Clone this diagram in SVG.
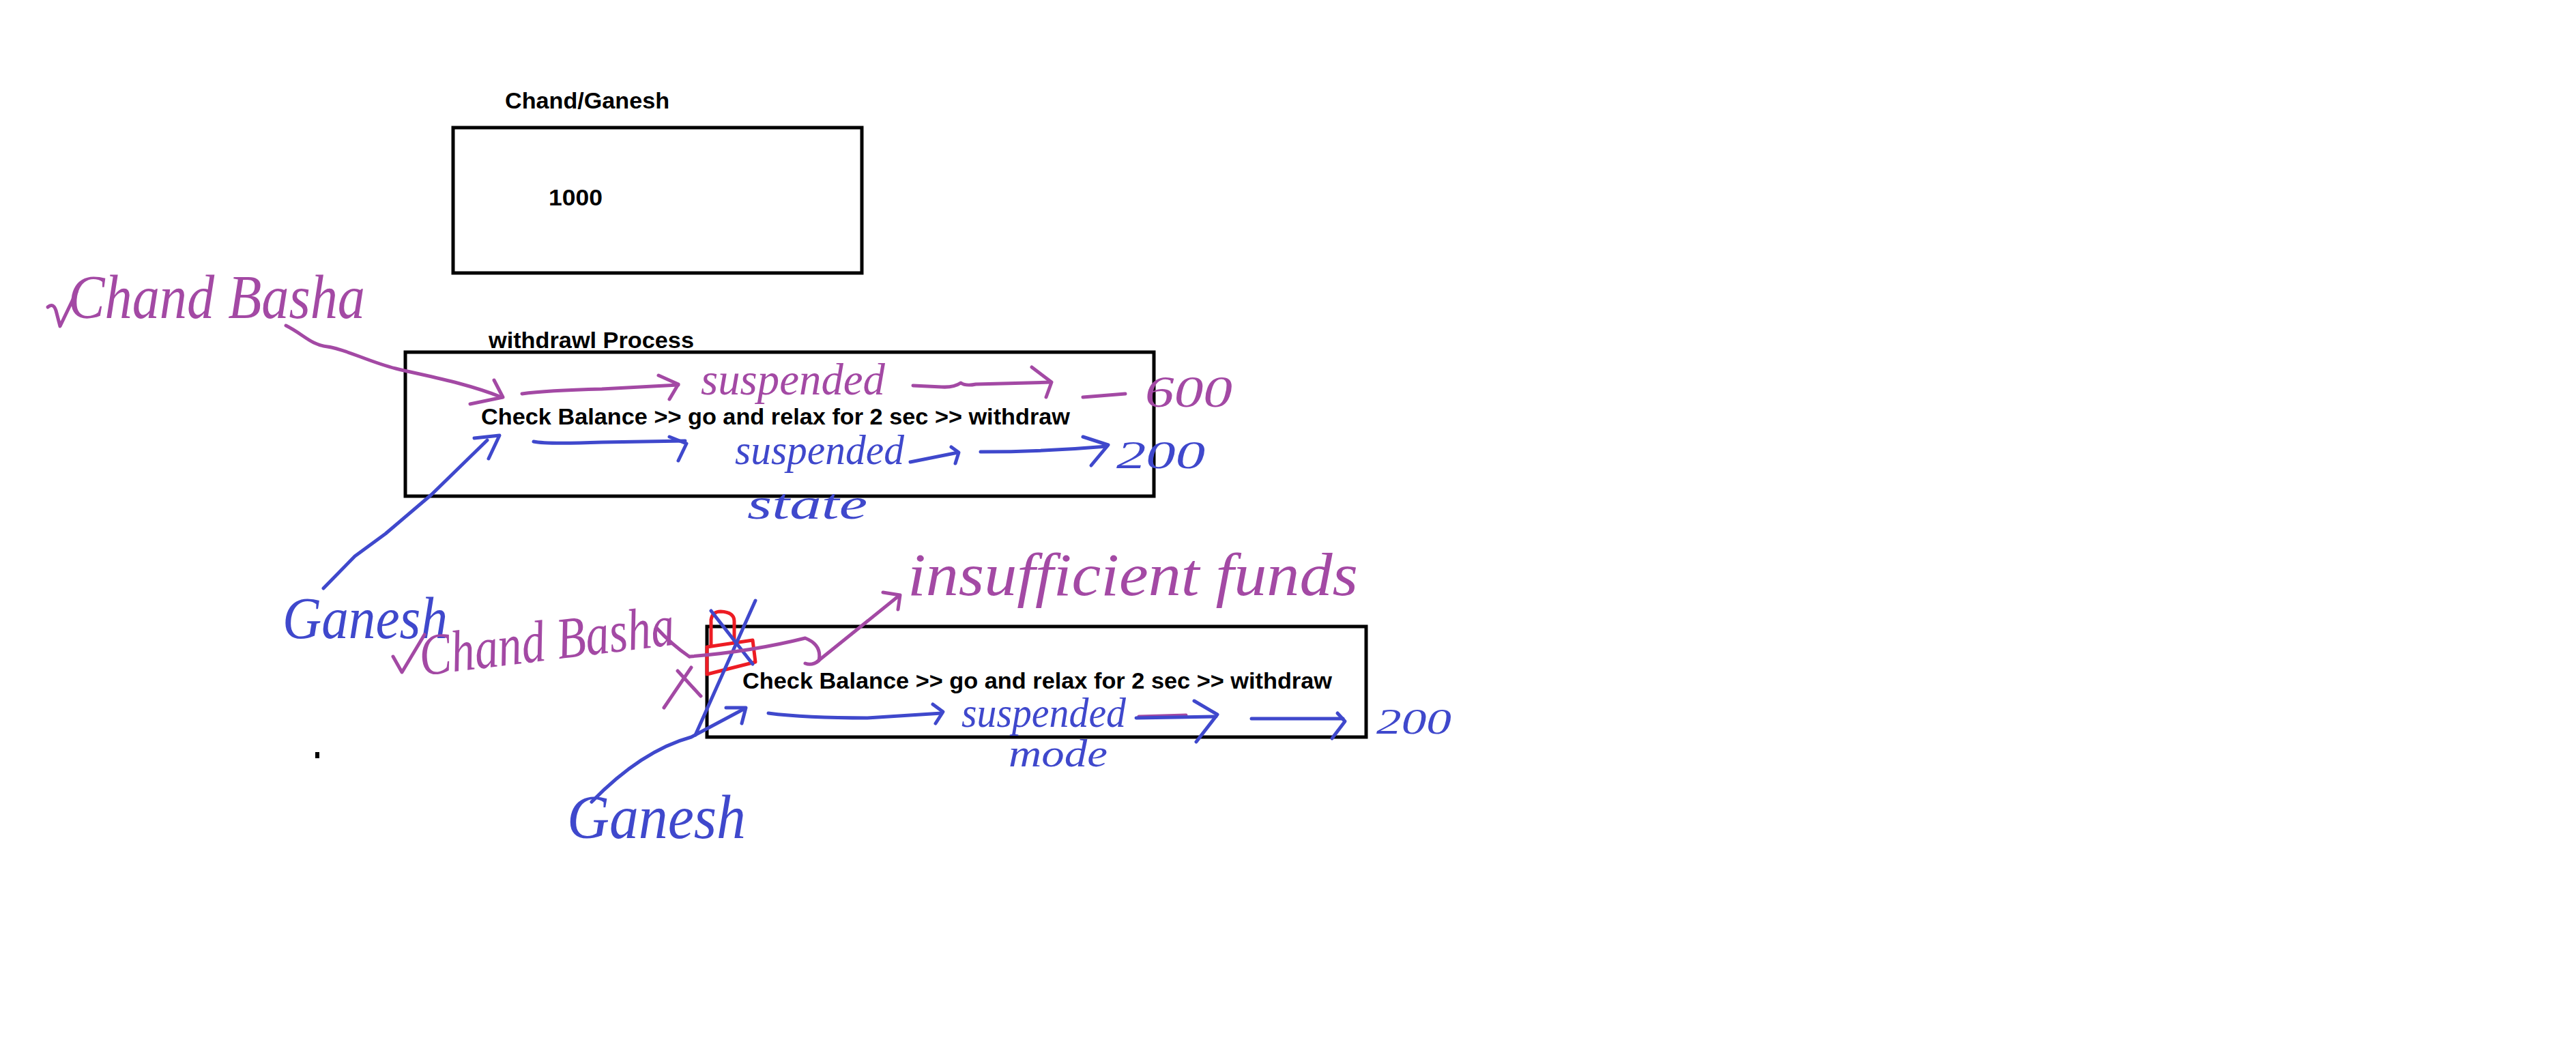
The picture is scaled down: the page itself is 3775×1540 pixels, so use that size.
<svg xmlns="http://www.w3.org/2000/svg" width="3775" height="1540" viewBox="0 0 3775 1540">
<style>
.bg{fill:#fff}
.box{fill:none;stroke:#000;stroke-width:5}
.lbl{font-family:"Liberation Sans",Arial,sans-serif;font-weight:bold;font-size:34px;fill:#000}
.ink{fill:none;stroke-width:5;stroke-linecap:round;stroke-linejoin:round}
.p{stroke:#A349A4}
.b{stroke:#3F48CC}
.r{stroke:#ED1C24}
.hw{font-family:"Liberation Serif","Times New Roman",serif;font-style:italic}
.hp{fill:#A349A4}
.hb{fill:#3F48CC}
</style>
<rect class="bg" x="0" y="0" width="3775" height="1540"/>

<g id="node-account">
  <text class="lbl" x="740" y="159" textLength="241" lengthAdjust="spacingAndGlyphs">Chand/Ganesh</text>
  <rect class="box" x="664" y="187" width="599" height="213"/>
  <text class="lbl" x="804" y="301" textLength="79" lengthAdjust="spacingAndGlyphs">1000</text>
</g>

<g id="node-withdraw1">
  <text class="lbl" x="716" y="510" textLength="301" lengthAdjust="spacingAndGlyphs">withdrawl Process</text>
  <rect class="box" x="594" y="516" width="1097" height="211"/>
  <text class="lbl" x="705" y="622" textLength="863" lengthAdjust="spacingAndGlyphs">Check Balance &gt;&gt; go and relax for 2 sec &gt;&gt; withdraw</text>
</g>

<g id="node-withdraw2">
  <rect class="box" x="1036" y="918" width="966" height="162"/>
  <text class="lbl" x="1088" y="1009" textLength="864" lengthAdjust="spacingAndGlyphs">Check Balance &gt;&gt; go and relax for 2 sec &gt;&gt; withdraw</text>
</g>

<rect id="dot" x="462" y="1102" width="6" height="9" fill="#000"/>

<g id="annotations">
  <!-- upper Chand Basha -->
  <path class="ink p" d="M70,450 Q78,443 82,455 L88,478 L112,428"/>
  <text class="hw hp" x="100" y="466" font-size="90" textLength="435" lengthAdjust="spacingAndGlyphs">Chand Basha</text>
  <!-- box 2 annotations -->
  <text class="hw hp" x="1027" y="578" font-size="66" textLength="270" lengthAdjust="spacingAndGlyphs">suspended</text>
  <text class="hw hp" x="1678" y="596" font-size="66" textLength="128" lengthAdjust="spacingAndGlyphs">600</text>
  <text class="hw hb" x="1077" y="680" font-size="62" textLength="248" lengthAdjust="spacingAndGlyphs">suspended</text>
  <text class="hw hb" x="1095" y="760" font-size="64" textLength="176" lengthAdjust="spacingAndGlyphs">state</text>
  <text class="hw hb" x="1636" y="686" font-size="56" textLength="130" lengthAdjust="spacingAndGlyphs">200</text>
  <text class="hw hb" x="414" y="935" font-size="86" textLength="242" lengthAdjust="spacingAndGlyphs">Ganesh</text>
  <!-- lower Chand Basha -->
  <path class="ink p" d="M576,962 L589,985 L622,930"/>
  <text class="hw hp" x="618" y="990" font-size="86" textLength="376" lengthAdjust="spacingAndGlyphs" transform="rotate(-7 618 990)">Chand Basha</text>
  <!-- insufficient funds -->
  <text class="hw hp" x="1330" y="872" font-size="88" textLength="660" lengthAdjust="spacingAndGlyphs">insufficient funds</text>
  <!-- lock & crosses -->
  <path class="ink r" d="M1042,945 L1042,908 Q1044,896 1056,896 Q1076,897 1076,910 L1076,940"/>
  <path class="ink r" d="M1036,948 L1103,938 L1107,970 L1036,988 Z"/>
  <path class="ink p" d="M973,1037 L1013,978 M993,983 L1027,1020"/>
  <path class="ink b" d="M1107,880 L1019,1077 M1042,895 L1103,973"/>
  <!-- box 3 annotations -->
  <text class="hw hb" x="1409" y="1065" font-size="62" textLength="241" lengthAdjust="spacingAndGlyphs">suspended</text>
  <text class="hw hb" x="1478" y="1123" font-size="56" textLength="145" lengthAdjust="spacingAndGlyphs">mode</text>
  <text class="hw hb" x="2017" y="1075" font-size="52" textLength="110" lengthAdjust="spacingAndGlyphs">200</text>
  <text class="hw hb" x="831" y="1228" font-size="90" textLength="262" lengthAdjust="spacingAndGlyphs">Ganesh</text>
</g>

<g id="connectors">
  <!-- purple, withdrawal 1 -->
  <path class="ink p" d="M419,477 C445,490 455,505 480,508 S540,530 580,540 S680,560 735,582"/>
  <path class="ink p" d="M689,592 L737,582 L724,557"/>
  <path class="ink p" d="M765,577 Q800,572 882,570 L994,564"/>
  <path class="ink p" d="M965,550 L994,563 L981,585"/>
  <path class="ink p" d="M1338,565 L1380,567 Q1398,568 1408,561 Q1415,566 1430,563 L1540,560"/>
  <path class="ink p" d="M1512,538 L1541,560 L1533,582"/>
  <path class="ink p" d="M1587,582 L1649,577"/>
  <!-- blue, withdrawal 1 -->
  <path class="ink b" d="M474,862 L520,815 L565,782 L632,725 L714,645"/>
  <path class="ink b" d="M695,642 L732,638 L716,672"/>
  <path class="ink b" d="M782,647 Q800,651 882,648 L1004,646"/>
  <path class="ink b" d="M981,640 L1006,650 L994,675"/>
  <path class="ink b" d="M1334,677 L1404,663"/>
  <path class="ink b" d="M1394,655 L1405,663 L1400,679"/>
  <path class="ink b" d="M1437,662 Q1530,662 1622,654"/>
  <path class="ink b" d="M1587,640 L1624,652 L1599,682"/>
  <!-- purple, withdrawal 2 -->
  <path class="ink p" d="M962,920 Q985,945 1010,962"/>
  <path class="ink p" d="M1011,962 C1060,958 1120,950 1180,935 Q1205,945 1200,968 Q1190,976 1180,972"/>
  <path class="ink p" d="M1197,970 L1316,874"/>
  <path class="ink p" d="M1294,868 L1319,872 L1316,893"/>
  <!-- blue, withdrawal 2 -->
  <path class="ink b" d="M867,1175 Q940,1100 1013,1080 L1088,1040"/>
  <path class="ink b" d="M1064,1037 L1093,1037 L1087,1060"/>
  <path class="ink b" d="M1126,1045 Q1180,1052 1271,1052 L1380,1045"/>
  <path class="ink b" d="M1367,1032 L1382,1043 L1371,1060"/>
  <path class="ink p" d="M1669,1050 L1738,1048"/>
  <path class="ink b" d="M1665,1052 L1782,1050"/>
  <path class="ink b" d="M1750,1027 L1784,1047 L1753,1087"/>
  <path class="ink b" d="M1834,1053 L1968,1053"/>
  <path class="ink b" d="M1960,1045 L1971,1057 L1952,1082"/>
</g>
</svg>
